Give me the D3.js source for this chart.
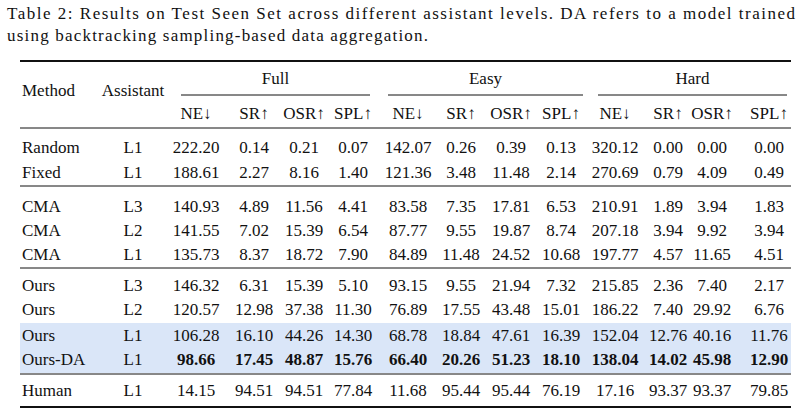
<!DOCTYPE html><html><head><meta charset="utf-8">
<script src="https://cdn.jsdelivr.net/npm/d3@7"></script>
<style>body{margin:0;background:#fff}</style></head><body>
<svg id="c" width="808" height="419"></svg>
<script>
const caption=["Table 2:  Results on Test Seen Set across different assistant levels.  DA refers to a model trained","using backtracking sampling-based data aggregation."];
const groups=["Full","Easy","Hard"];
const metrics=["NE↓","SR↑","OSR↑","SPL↑"];
const methods=["Random","Fixed","CMA","CMA","CMA","Ours","Ours","Ours","Ours-DA","Human"];
const assistants=["L1","L1","L3","L2","L1","L3","L2","L1","L1","L1"];
const values=[
["222.20","0.14","0.21","0.07","142.07","0.26","0.39","0.13","320.12","0.00","0.00","0.00"],
["188.61","2.27","8.16","1.40","121.36","3.48","11.48","2.14","270.69","0.79","4.09","0.49"],
["140.93","4.89","11.56","4.41","83.58","7.35","17.81","6.53","210.91","1.89","3.94","1.83"],
["141.55","7.02","15.39","6.54","87.77","9.55","19.87","8.74","207.18","3.94","9.92","3.94"],
["135.73","8.37","18.72","7.90","84.89","11.48","24.52","10.68","197.77","4.57","11.65","4.51"],
["146.32","6.31","15.39","5.10","93.15","9.55","21.94","7.32","215.85","2.36","7.40","2.17"],
["120.57","12.98","37.38","11.30","76.89","17.55","43.48","15.01","186.22","7.40","29.92","6.76"],
["106.28","16.10","44.26","14.30","68.78","18.84","47.61","16.39","152.04","12.76","40.16","11.76"],
["98.66","17.45","48.87","15.76","66.40","20.26","51.23","18.10","138.04","14.02","45.98","12.90"],
["14.15","94.51","94.51","77.84","11.68","95.44","95.44","76.19","17.16","93.37","93.37","79.85"]];
const boldRow=8;
const rowY=[147,172,206,230,254,285,309,335,359,390];
const colCenter=[196,254,304,353,408,461,511,561,615,668,712,769];
const groupSpan=[[181,370],[388,583],[598,787]];
const svg=d3.select("#c"), F="'Liberation Serif','Times New Roman',serif";
const t=(x,y,s,a="start",w="normal")=>svg.append("text").attr("x",x).attr("y",y).attr("font-family",F).attr("font-size",17).attr("text-anchor",a).attr("font-weight",w).attr("fill","#111").text(s);
caption.forEach((c,i)=>{const e=t(7,19+i*22,c);if(i===0)e.attr("textLength",788).attr("lengthAdjust","spacing");else e.attr("textLength",421).attr("lengthAdjust","spacing");});
svg.append("rect").attr("x",20).attr("y",323).attr("width",771).attr("height",50).attr("fill","#dae6f8");
const line=(y,w)=>svg.append("line").attr("x1",20).attr("x2",791).attr("y1",y).attr("y2",y).attr("stroke","#111").attr("stroke-width",w);
line(61,1.8);line(128,1);line(186,1);line(268,1);line(374,1);line(407,1.8);
t(22,96,"Method");t(133,96,"Assistant","middle");
groupSpan.forEach((g,i)=>{t((g[0]+g[1])/2,84,groups[i],"middle");
 svg.append("line").attr("x1",g[0]).attr("x2",g[1]).attr("y1",95).attr("y2",95).attr("stroke","#111");});
colCenter.forEach((x,j)=>t(x,119,metrics[j%4],"middle"));
methods.forEach((m,i)=>{const y=rowY[i]+6;t(22,y,m);t(133,y,assistants[i],"middle");
 values[i].forEach((v,j)=>t(colCenter[j],y,v,"middle",i===boldRow?"bold":"normal"));});
</script></body></html>
